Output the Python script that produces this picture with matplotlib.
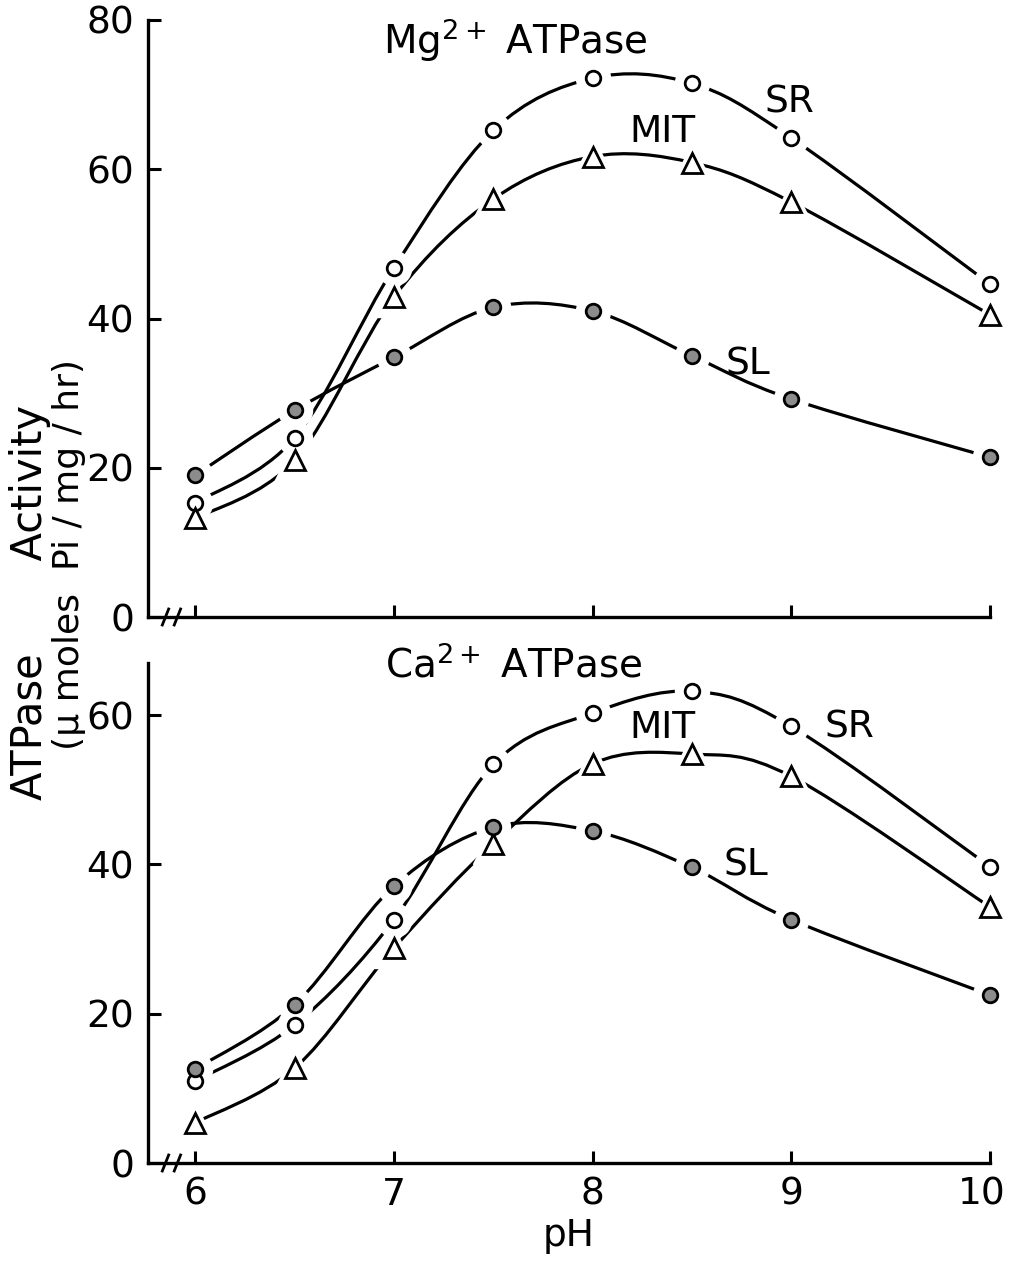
import numpy as np
import matplotlib
matplotlib.use("Agg")
import matplotlib.pyplot as plt
from matplotlib.path import Path
from matplotlib.patches import PathPatch
import matplotlib.transforms as mtransforms

plt.rcParams['font.family'] = ['DejaVu Sans']
plt.rcParams['mathtext.default'] = 'regular'

# ---------------- data ----------------
ph = [6, 6.5, 7, 7.5, 8, 8.5, 9, 10]

mg_sr = [15.3, 24.0, 46.8, 65.2, 72.2, 71.5, 64.2, 44.6]
mg_mit = [13.2, 21.0, 42.9, 56.0, 61.7, 60.9, 55.6, 40.5]
mg_sl = [19.0, 27.7, 34.8, 41.5, 41.0, 35.0, 29.2, 21.4]

ca_sr = [11.0, 18.5, 32.6, 53.4, 60.3, 63.2, 58.5, 39.7]
ca_mit = [5.4, 12.7, 28.8, 42.8, 53.5, 54.8, 51.8, 34.3]
ca_sl = [12.6, 21.2, 37.1, 45.0, 44.5, 39.6, 32.6, 22.5]

top_yticks = [0, 20, 40, 60, 80]
bot_yticks = [0, 20, 40, 60]
xticks = [6, 7, 8, 9, 10]
xticklabels = ['6', '7', '8', '9', '10']

# ---------------- figure ----------------
W, H = 1010, 1262
fig = plt.figure(figsize=(W / 100, H / 100), dpi=100)

def fx(px):
    return px / W

def fy(py):
    return 1 - py / H

xlim = (5.762, 10.0)
ax1 = fig.add_axes([fx(148), fy(617), fx(990) - fx(148), fy(20) - fy(617)])
ax2 = fig.add_axes([fx(148), fy(1163), fx(990) - fx(148), fy(663) - fy(1163)])
ax1.set_ylim(0, 80)
ax2.set_ylim(0, 67)

LW = 2.3
FS = 27


def smooth_curve(ax, xs, ys):
    pts = np.column_stack([xs, ys]).astype(float)
    n = len(pts)
    verts = [pts[0]]
    codes = [Path.MOVETO]
    for i in range(n - 1):
        p0 = pts[i - 1] if i > 0 else pts[i]
        p1 = pts[i]
        p2 = pts[i + 1]
        p3 = pts[i + 2] if i + 2 < n else pts[i + 1]
        c1 = p1 + (p2 - p0) / 6.0
        c2 = p2 - (p3 - p1) / 6.0
        verts += [c1, c2, p2]
        codes += [Path.CURVE4] * 3
    patch = PathPatch(Path(verts, codes), fill=False, lw=LW, ec='black',
                      capstyle='round', zorder=2)
    ax.add_patch(patch)


def series(ax, ys, kind):
    smooth_curve(ax, ph, ys)
    if kind == 'open':
        ms, mk, fc = 10.5, 'o', 'white'
    elif kind == 'tri':
        ms, mk, fc = 15, '^', 'white'
    else:
        ms, mk, fc = 10.5, 'o', '#8c8c8c'
    # white halo to create gap between line and marker
    ax.plot(ph, ys, linestyle='none', marker=mk, ms=ms + 14, mfc='white',
            mec='white', zorder=3, clip_on=False)
    ax.plot(ph, ys, linestyle='none', marker=mk, ms=ms, mfc=fc, mec='black',
            mew=2.0, zorder=4, clip_on=False)


for ax in (ax1, ax2):
    ax.set_xlim(*xlim)
    ax.spines['top'].set_visible(False)
    ax.spines['right'].set_visible(False)
    ax.spines['left'].set_linewidth(2.4)
    ax.spines['bottom'].set_linewidth(2.4)
    ax.set_xticks(xticks)
    ax.tick_params(direction='in', length=9, width=2.2, labelsize=FS, pad=10)
    ax.set_facecolor('none')
    # axis break marks
    ah = ax.get_position().height * H
    dy = 8.0 / ah
    trans = mtransforms.blended_transform_factory(ax.transData, ax.transAxes)
    for bx in (5.85, 5.91):
        ax.plot([bx - 0.016, bx + 0.016], [-dy, dy], transform=trans,
                color='black', lw=2.0, clip_on=False, zorder=5)

ax1.set_yticks(top_yticks)
ax1.set_xticklabels([])
ax2.set_yticks(bot_yticks)
ax2.set_xticklabels(xticklabels)
ax2.set_xlabel('pH', fontsize=FS, labelpad=4)
lab10 = ax2.get_xticklabels()[-1]
lab10.set_transform(lab10.get_transform() +
                    mtransforms.ScaledTranslation(-0.08, 0, fig.dpi_scale_trans))

series(ax1, mg_sr, 'open')
series(ax1, mg_mit, 'tri')
series(ax1, mg_sl, 'fill')
series(ax2, ca_sr, 'open')
series(ax2, ca_mit, 'tri')
series(ax2, ca_sl, 'fill')

ax1.text(7.61, 77.3, 'Mg$^{2+}$ ATPase', fontsize=28, ha='center', va='center')
ax2.text(7.60, 66.6, 'Ca$^{2+}$ ATPase', fontsize=28, ha='center', va='center')

ax1.text(8.99, 69.0, 'SR', fontsize=FS, ha='center', va='center')
ax1.text(8.35, 65.0, 'MIT', fontsize=FS, ha='center', va='center')
ax1.text(8.78, 33.9, 'SL', fontsize=FS, ha='center', va='center')
ax2.text(9.29, 58.4, 'SR', fontsize=FS, ha='center', va='center')
ax2.text(8.35, 58.3, 'MIT', fontsize=FS, ha='center', va='center')
ax2.text(8.77, 39.9, 'SL', fontsize=FS, ha='center', va='center')

fig.text(fx(30), fy(602), 'ATPase       Activity', rotation=90, fontsize=30,
         ha='center', va='center')
fig.text(fx(69), fy(555), '(μ moles  Pi / mg / hr)', rotation=90, fontsize=26,
         ha='center', va='center')

fig.savefig('out.png', dpi=100, facecolor='white')
